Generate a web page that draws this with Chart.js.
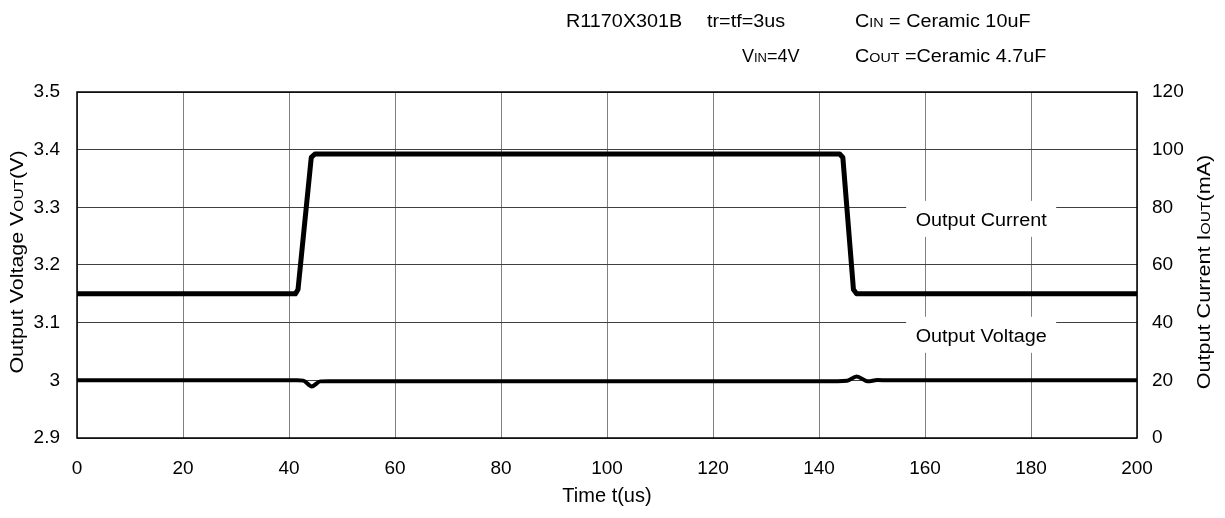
<!DOCTYPE html>
<html><head><meta charset="utf-8">
<script src="https://cdn.jsdelivr.net/npm/chart.js@4.4.1/dist/chart.umd.min.js"></script>
<style>html,body{margin:0;padding:0;background:#fff;}#wrap{width:1225px;height:518px;position:relative}</style>
</head><body><div id="wrap"><canvas id="c" width="1225" height="518"></canvas></div>
<script>
// ---- data ----
const timeTicks = [0, 20, 40, 60, 80, 100, 120, 140, 160, 180, 200];
const voltageTicks = [2.9, 3.0, 3.1, 3.2, 3.3, 3.4, 3.5];
const voltageTickLabels = ['2.9', '3', '3.1', '3.2', '3.3', '3.4', '3.5'];
const currentTicks = [0, 20, 40, 60, 80, 100, 120];
const currentTime   = [0, 41.2, 41.7, 44.2, 44.9, 143.9, 144.5, 146.5, 147.1, 200];
const currentValues = [50, 50, 51.5, 97.3, 98.5, 98.5, 97.3, 51.5, 50, 50];
const voltageTime   = [0, 41.6, 42.7, 44.3, 45.9, 47.5, 143.5, 145.3, 147.1, 149.2, 151, 153, 200];
const voltageValues = [3.0, 3.0, 2.9995, 2.9895, 2.9982, 2.9985, 2.9985, 2.9992, 3.0068, 2.9983, 3.0005, 3.0, 3.0];
const seriesNames = ['Output Current', 'Output Voltage'];

// ---- styles / layout ----
const FONT = '"Liberation Sans", Arial, sans-serif';
const TICK_SIZE = 19;
const labelAnchors = [{ t: 170.6, v: 3.28 }, { t: 170.6, v: 3.079 }];

function rich(ctx, segs, x, y, align, sx) {
  sx = sx || 1;
  let w = 0;
  segs.forEach(s => { ctx.font = s[1] + 'px ' + FONT; w += ctx.measureText(s[0]).width; });
  ctx.save();
  ctx.translate(x, y);
  ctx.scale(sx, 1);
  let cx = align === 'center' ? -w / 2 : 0;
  ctx.textAlign = 'left';
  ctx.textBaseline = 'alphabetic';
  segs.forEach(s => { ctx.font = s[1] + 'px ' + FONT; ctx.fillText(s[0], cx, 0); cx += ctx.measureText(s[0]).width; });
  ctx.restore();
}

const deco = {
  id: 'deco',
  beforeDatasetsDraw(chart) {
    const ctx = chart.ctx, xs = chart.scales.x, ys = chart.scales.y, a = chart.chartArea;
    ctx.save();
    ctx.strokeStyle = '#000'; ctx.lineWidth = 1.5;
    ctx.strokeRect(a.left, a.top, a.right - a.left, a.bottom - a.top);
    seriesNames.forEach((name, i) => {
      const px = xs.getPixelForValue(labelAnchors[i].t), py = ys.getPixelForValue(labelAnchors[i].v);
      ctx.fillStyle = '#fff';
      ctx.fillRect(px - 75, py - 18, 150, 36);
      ctx.fillStyle = '#000';
      rich(ctx, [[name, 18]], px, py + 7, 'center', 1.1);
    });
    ctx.restore();
  },
  afterDraw(chart) {
    const ctx = chart.ctx;
    ctx.save();
    ctx.fillStyle = '#000';
    const S = 1.1;
    rich(ctx, [['R1170X301B', 18]], 566, 27, 'left', S);
    rich(ctx, [['tr=tf=3us', 18]], 707, 27, 'left', S);
    rich(ctx, [['C', 18], ['IN', 13], [' = Ceramic 10uF', 18]], 855, 27, 'left', S);
    rich(ctx, [['V', 18], ['IN', 13], ['=4V', 18]], 742, 62, 'left', 1.0);
    rich(ctx, [['C', 18], ['OUT', 13], [' =Ceramic 4.7uF', 18]], 855, 62, 'left', S);
    ctx.save(); ctx.translate(23, 262); ctx.rotate(-Math.PI / 2);
    rich(ctx, [['Output Voltage V', 18], ['OUT', 13], ['(V)', 18]], 0, 0, 'center', 1.19);
    ctx.restore();
    ctx.save(); ctx.translate(1210, 272); ctx.rotate(-Math.PI / 2);
    rich(ctx, [['Output Current I', 18], ['OUT', 13], ['(mA)', 18]], 0, 0, 'center', 1.2);
    ctx.restore();
    ctx.restore();
  }
};

new Chart(document.getElementById('c'), {
  type: 'line',
  data: {
    datasets: [
      { label: seriesNames[0], yAxisID: 'y1', data: currentTime.map((t, i) => ({ x: t, y: currentValues[i] })),
        borderColor: '#000', borderWidth: 5, pointRadius: 0, tension: 0, borderJoinStyle: 'round', borderCapStyle: 'round' },
      { label: seriesNames[1], yAxisID: 'y', data: voltageTime.map((t, i) => ({ x: t, y: voltageValues[i] })),
        borderColor: '#000', borderWidth: 4, pointRadius: 0, cubicInterpolationMode: 'monotone', borderJoinStyle: 'round' }
    ]
  },
  options: {
    responsive: false, animation: false, devicePixelRatio: 1,
    layout: { padding: { top: 92, left: 0, right: 0, bottom: 0 } },
    plugins: { legend: { display: false }, tooltip: { enabled: false } },
    scales: {
      x: {
        type: 'linear', min: 0, max: 200,
        afterBuildTicks: s => { s.ticks = timeTicks.map(v => ({ value: v })); },
        afterFit: s => { s.height = 80; },
        ticks: { color: '#000', font: { family: FONT, size: TICK_SIZE }, padding: 19, maxRotation: 0 },
        grid: { color: '#808080', lineWidth: 1, drawTicks: false },
        border: { display: false },
        title: { display: true, text: 'Time t(us)', color: '#000', font: { family: FONT, size: 20 }, padding: { top: 4, bottom: 10 } }
      },
      y: {
        position: 'left', min: 2.9, max: 3.5,
        afterBuildTicks: s => { s.ticks = voltageTicks.map(v => ({ value: v })); },
        afterFit: s => { s.width = 77; },
        ticks: { color: '#000', font: { family: FONT, size: TICK_SIZE }, padding: 17, callback: (v, i) => voltageTickLabels[i] },
        grid: { color: '#404040', lineWidth: 1, drawTicks: false },
        border: { display: false }
      },
      y1: {
        position: 'right', min: 0, max: 120,
        afterBuildTicks: s => { s.ticks = currentTicks.map(v => ({ value: v })); },
        afterFit: s => { s.width = 88; },
        ticks: { color: '#000', font: { family: FONT, size: TICK_SIZE }, padding: 15 },
        grid: { drawOnChartArea: false, drawTicks: false },
        border: { display: false }
      }
    }
  },
  plugins: [deco]
});
</script></body></html>
